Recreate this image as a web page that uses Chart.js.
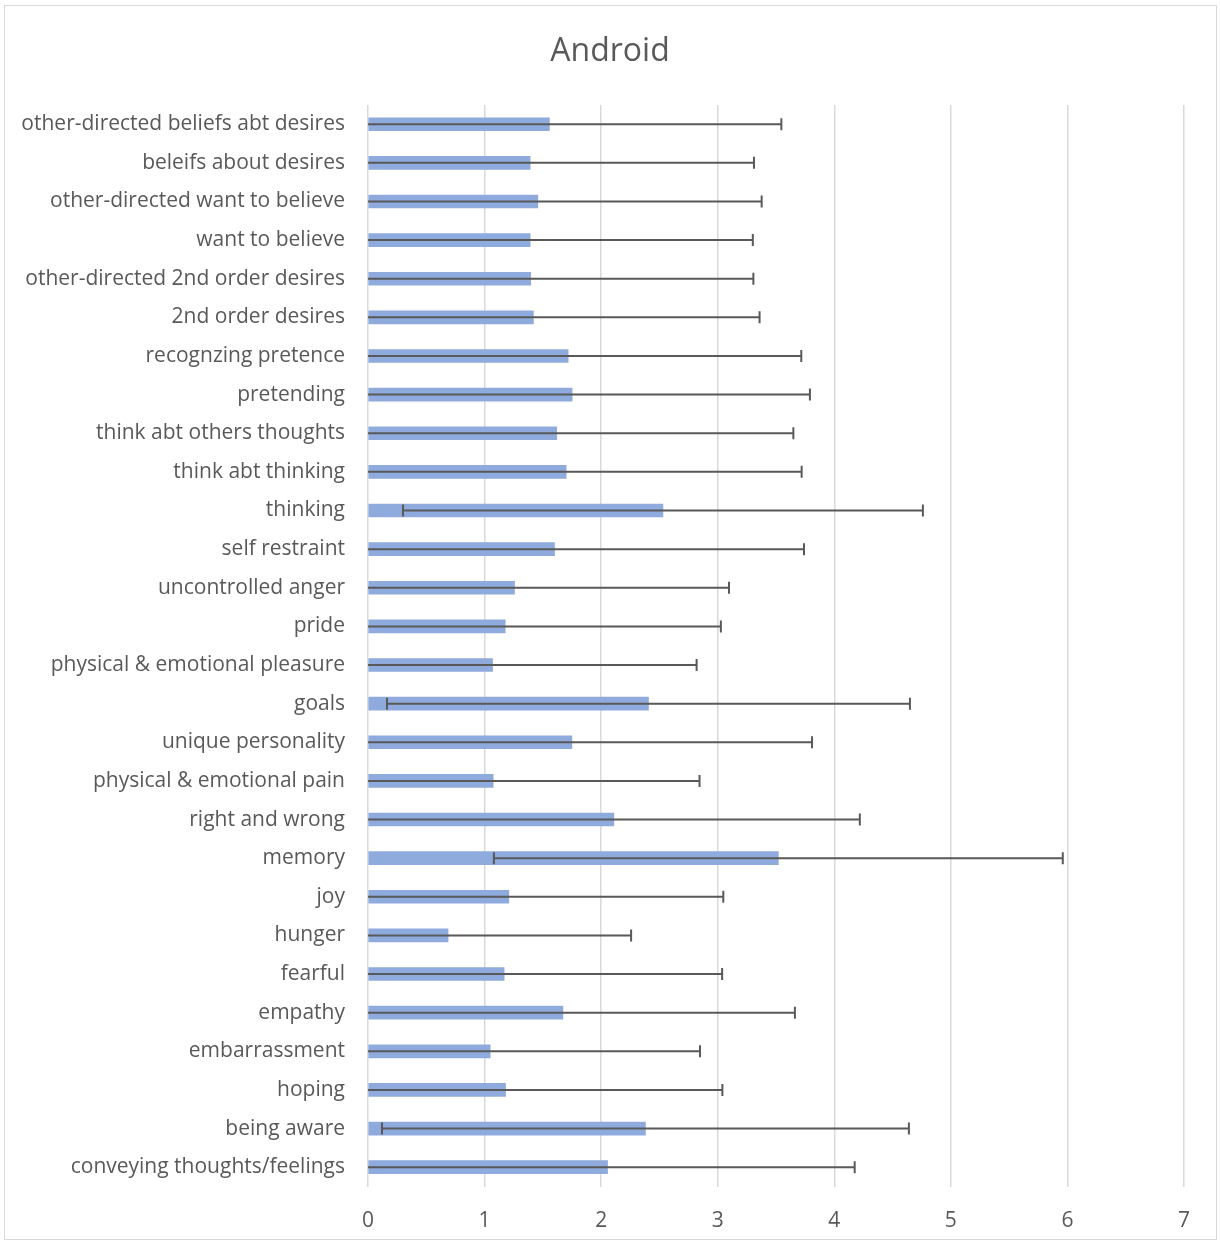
<!DOCTYPE html>
<html>
<head>
<meta charset="utf-8">
<title>Android</title>
<script src="https://cdn.jsdelivr.net/npm/chart.js@4.4.1/dist/chart.umd.min.js"></script>
<style>
  html, body { margin: 0; padding: 0; background: #ffffff; }
  body { width: 1220px; height: 1245px; position: relative; overflow: hidden; }
  #frame {
    position: absolute; left: 4px; top: 5px; width: 1213px; height: 1235px;
    border: 1px solid #d9d9d9; box-sizing: border-box;
  }
  #wrap { position: absolute; left: 0; top: 0; width: 1220px; height: 1245px; }
</style>
</head>
<body>
<div id="frame"></div>
<div id="wrap"><canvas id="chart" width="1220" height="1245"></canvas></div>
<script>
// Capability categories, listed top to bottom as they appear on the axis
const categories = [
  "other-directed beliefs abt desires",
  "beleifs about desires",
  "other-directed want to believe",
  "want to believe",
  "other-directed 2nd order desires",
  "2nd order desires",
  "recognzing pretence",
  "pretending",
  "think abt others thoughts",
  "think abt thinking",
  "thinking",
  "self restraint",
  "uncontrolled anger",
  "pride",
  "physical & emotional pleasure",
  "goals",
  "unique personality",
  "physical & emotional pain",
  "right and wrong",
  "memory",
  "joy",
  "hunger",
  "fearful",
  "empathy",
  "embarrassment",
  "hoping",
  "being aware",
  "conveying thoughts/feelings"
];

// Mean rating per category
const means = [
  1.556, 1.391, 1.457, 1.391, 1.396, 1.419, 1.717, 1.751, 1.619, 1.700,
  2.530, 1.600, 1.257, 1.177, 1.069, 2.406, 1.749, 1.074, 2.109, 3.520,
  1.208, 0.687, 1.168, 1.672, 1.048, 1.180, 2.380, 2.055
];

// Standard deviation per category (symmetric error bars)
const errors = [
  1.99, 1.92, 1.92, 1.91, 1.91, 1.94, 2.00, 2.04, 2.03, 2.02,
  2.23, 2.14, 1.84, 1.85, 1.75, 2.243, 2.06, 1.77, 2.11, 2.44,
  1.84, 1.57, 1.87, 1.99, 1.80, 1.86, 2.26, 2.12
];

const xTicks = [0, 1, 2, 3, 4, 5, 6, 7];

const TEXT = '#595959';
const FONT = "'Open Sans', 'Noto Sans', sans-serif";

// Draws the error bars on top of the bars; the low end is clipped at the axis minimum
const errorBars = {
  id: 'errorBars',
  afterDatasetsDraw(chart) {
    const meta = chart.getDatasetMeta(0);
    const xs = chart.scales.x;
    const ctx = chart.ctx;
    const cap = 6;
    ctx.save();
    ctx.strokeStyle = '#595959';
    ctx.lineWidth = 2;
    meta.data.forEach((bar, i) => {
      const m = means[i], e = errors[i];
      const lo = Math.max(xs.min, m - e);
      const hi = Math.min(xs.max, m + e);
      const x0 = xs.getPixelForValue(lo);
      const x1 = xs.getPixelForValue(hi);
      const y = bar.y;
      ctx.beginPath();
      ctx.moveTo(x0, y);
      ctx.lineTo(x1, y);
      if (m + e <= xs.max) { ctx.moveTo(x1, y - cap); ctx.lineTo(x1, y + cap); }
      if (m - e >= xs.min) { ctx.moveTo(x0, y - cap); ctx.lineTo(x0, y + cap); }
      ctx.stroke();
    });
    ctx.restore();
  }
};

new Chart(document.getElementById('chart'), {
  type: 'bar',
  data: {
    labels: categories,
    datasets: [{
      data: means,
      backgroundColor: '#8faadc',
      borderWidth: 0,
      barThickness: 13
    }]
  },
  options: {
    indexAxis: 'y',
    responsive: false,
    animation: false,
    layout: { padding: 0 },
    plugins: {
      legend: { display: false },
      tooltip: { enabled: false },
      title: {
        display: true,
        text: 'Android',
        color: TEXT,
        font: { family: FONT, size: 32, weight: 'normal' },
        padding: { top: 33, bottom: 33.5 }
      }
    },
    scales: {
      x: {
        type: 'linear',
        min: 0,
        max: 7,
        afterBuildTicks(scale) { scale.ticks = xTicks.map(v => ({ value: v })); },
        afterFit(scale) { scale.height = 58.5; },
        grid: { color: '#d9d9d9', lineWidth: 1.5, drawTicks: false },
        border: { display: false },
        ticks: { color: TEXT, font: { family: FONT, size: 21 }, padding: 21.5 }
      },
      y: {
        type: 'category',
        afterFit(scale) { scale.width = 368; },
        grid: { display: false, drawTicks: false },
        border: { display: false },
        ticks: { color: TEXT, font: { family: FONT, size: 21 }, padding: 23, autoSkip: false }
      },
      // empty right-hand margin axis that keeps the plot clear of the right edge
      yRight: {
        type: 'category',
        axis: 'y',
        position: 'right',
        afterFit(scale) { scale.width = 36; },
        grid: { display: false, drawTicks: false },
        border: { display: false },
        ticks: { display: false }
      }
    }
  },
  plugins: [errorBars]
});
</script>
</body>
</html>
